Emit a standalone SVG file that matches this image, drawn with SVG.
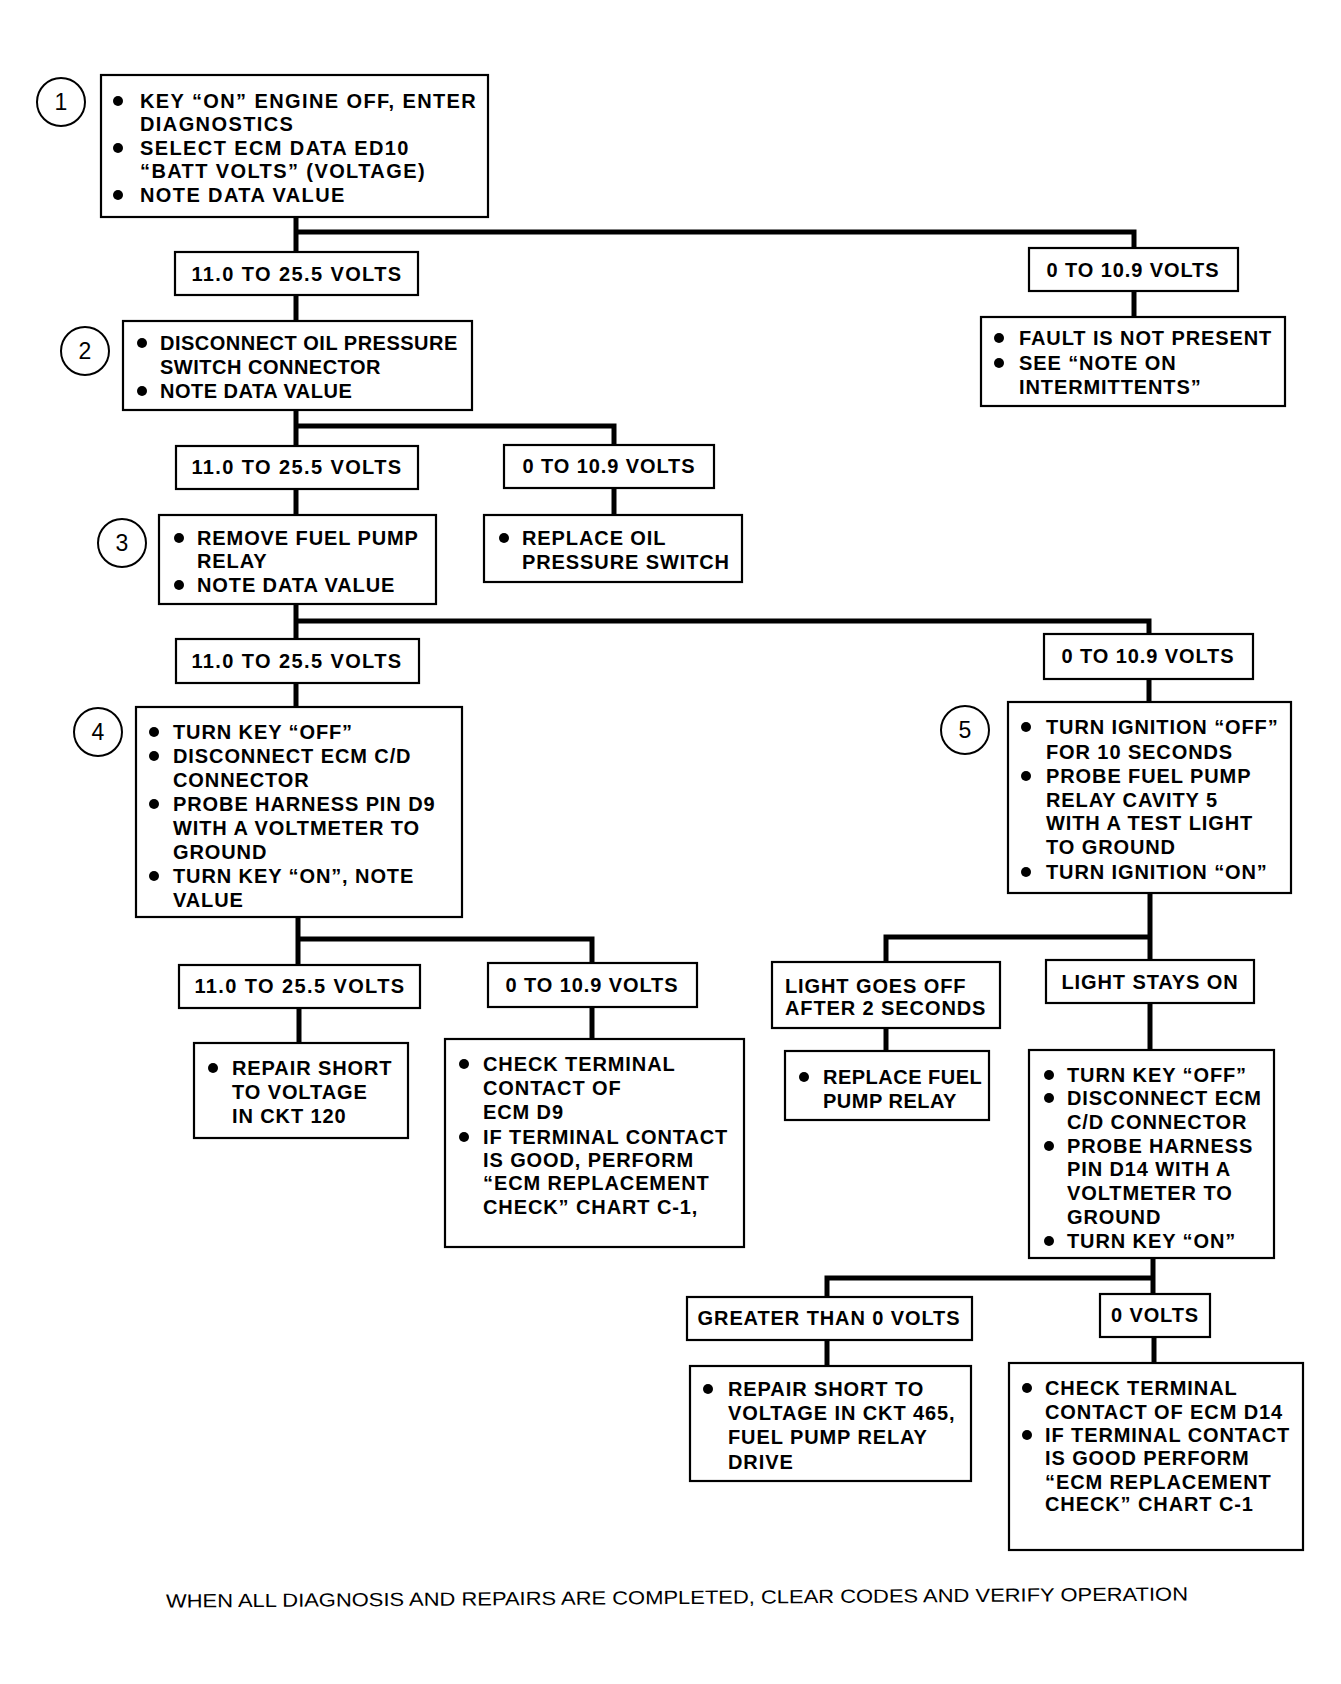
<svg xmlns="http://www.w3.org/2000/svg" width="1341" height="1684" viewBox="0 0 1341 1684">
<style>
.box{fill:#fff;stroke:#000;stroke-width:2.2}
.t{font-family:"Liberation Sans",Arial,sans-serif;font-size:20px;font-weight:bold;letter-spacing:0.9px;fill:#000}
.m{text-anchor:middle}
.w{letter-spacing:1.4px}
.n{letter-spacing:0.5px}
.b{fill:#000}
.c{stroke:#000;stroke-width:5;fill:none;stroke-linejoin:miter;stroke-linecap:butt}
.ring{fill:#fff;stroke:#000;stroke-width:2}
.num{font-family:"Liberation Sans",Arial,sans-serif;font-size:23px;text-anchor:middle;fill:#000}
.foot{font-family:"Liberation Sans",Arial,sans-serif;font-size:19px;fill:#000}
</style>
<rect width="1341" height="1684" fill="#fff"/>
<g id="connectors">
<path class="c" d="M296 217 V252 M296 232 H1134 V248"/>
<path class="c" d="M296 295 V321"/>
<path class="c" d="M1134 291 V317"/>
<path class="c" d="M296 410 V446 M296 426 H614 V445"/>
<path class="c" d="M296 489 V515"/>
<path class="c" d="M614 488 V515"/>
<path class="c" d="M296 604 V639 M296 621 H1149 V634"/>
<path class="c" d="M296 683 V707"/>
<path class="c" d="M1149 679 V702"/>
<path class="c" d="M298 917 V965 M298 939 H592 V963"/>
<path class="c" d="M299 1008 V1043"/>
<path class="c" d="M592 1007 V1039"/>
<path class="c" d="M1150 893 V960 M1150 937 H886 V962"/>
<path class="c" d="M886 1028 V1051"/>
<path class="c" d="M1150 1003 V1050"/>
<path class="c" d="M1153 1258 V1294 M1153 1278 H827 V1297"/>
<path class="c" d="M827 1340 V1366"/>
<path class="c" d="M1154 1337 V1363"/>
</g>
<g id="step1">
<circle class="ring" cx="61" cy="102" r="24"/><text class="num" x="61" y="110">1</text>
<rect class="box" x="101" y="75" width="387" height="142"/>
<circle class="b" cx="118" cy="101" r="5"/><circle class="b" cx="118" cy="148" r="5"/><circle class="b" cx="118" cy="195" r="5"/>
<text class="t w" x="140" y="108">KEY “ON” ENGINE OFF, ENTER</text>
<text class="t w" x="140" y="131">DIAGNOSTICS</text>
<text class="t w" x="140" y="155">SELECT ECM DATA ED10</text>
<text class="t w" x="140" y="178">“BATT VOLTS” (VOLTAGE)</text>
<text class="t w" x="140" y="202">NOTE DATA VALUE</text>
</g>
<g id="l1a"><rect class="box" x="175" y="252" width="243" height="43"/><text class="t m w" x="297" y="281">11.0 TO 25.5 VOLTS</text></g>
<g id="l1b"><rect class="box" x="1029" y="248" width="209" height="43"/><text class="t m" x="1133" y="277">0 TO 10.9 VOLTS</text></g>
<g id="fault">
<rect class="box" x="981" y="317" width="304" height="89"/>
<circle class="b" cx="999" cy="338" r="5"/><circle class="b" cx="999" cy="363" r="5"/>
<text class="t" x="1019" y="345">FAULT IS NOT PRESENT</text>
<text class="t" x="1019" y="370">SEE “NOTE ON</text>
<text class="t" x="1019" y="394">INTERMITTENTS”</text>
</g>
<g id="step2">
<circle class="ring" cx="85" cy="351" r="24"/><text class="num" x="85" y="359">2</text>
<rect class="box" x="123" y="321" width="349" height="89"/>
<circle class="b" cx="142" cy="343" r="5"/><circle class="b" cx="142" cy="391" r="5"/>
<text class="t n" x="160" y="350">DISCONNECT OIL PRESSURE</text>
<text class="t n" x="160" y="374">SWITCH CONNECTOR</text>
<text class="t n" x="160" y="398">NOTE DATA VALUE</text>
</g>
<g id="l2a"><rect class="box" x="176" y="446" width="242" height="43"/><text class="t m w" x="297" y="474">11.0 TO 25.5 VOLTS</text></g>
<g id="l2b"><rect class="box" x="504" y="445" width="210" height="43"/><text class="t m" x="609" y="473">0 TO 10.9 VOLTS</text></g>
<g id="replaceoil">
<rect class="box" x="484" y="515" width="258" height="67"/>
<circle class="b" cx="504" cy="538" r="5"/>
<text class="t" x="522" y="545">REPLACE OIL</text>
<text class="t" x="522" y="569">PRESSURE SWITCH</text>
</g>
<g id="step3">
<circle class="ring" cx="122" cy="543" r="24"/><text class="num" x="122" y="551">3</text>
<rect class="box" x="159" y="515" width="277" height="89"/>
<circle class="b" cx="179" cy="538" r="5"/><circle class="b" cx="179" cy="585" r="5"/>
<text class="t" x="197" y="545">REMOVE FUEL PUMP</text>
<text class="t" x="197" y="568">RELAY</text>
<text class="t" x="197" y="592">NOTE DATA VALUE</text>
</g>
<g id="l3a"><rect class="box" x="176" y="639" width="243" height="44"/><text class="t m w" x="297" y="668">11.0 TO 25.5 VOLTS</text></g>
<g id="l3b"><rect class="box" x="1044" y="634" width="209" height="45"/><text class="t m" x="1148" y="663">0 TO 10.9 VOLTS</text></g>
<g id="step4">
<circle class="ring" cx="98" cy="732" r="24"/><text class="num" x="98" y="740">4</text>
<rect class="box" x="136" y="707" width="326" height="210"/>
<circle class="b" cx="154" cy="732" r="5"/><circle class="b" cx="154" cy="756" r="5"/><circle class="b" cx="154" cy="804" r="5"/><circle class="b" cx="154" cy="876" r="5"/>
<text class="t" x="173" y="739">TURN KEY “OFF”</text>
<text class="t" x="173" y="763">DISCONNECT ECM C/D</text>
<text class="t" x="173" y="787">CONNECTOR</text>
<text class="t" x="173" y="811">PROBE HARNESS PIN D9</text>
<text class="t" x="173" y="835">WITH A VOLTMETER TO</text>
<text class="t" x="173" y="859">GROUND</text>
<text class="t" x="173" y="883">TURN KEY “ON”, NOTE</text>
<text class="t" x="173" y="907">VALUE</text>
</g>
<g id="step5">
<circle class="ring" cx="965" cy="730" r="24"/><text class="num" x="965" y="738">5</text>
<rect class="box" x="1008" y="702" width="283" height="191"/>
<circle class="b" cx="1026" cy="727" r="5"/><circle class="b" cx="1026" cy="776" r="5"/><circle class="b" cx="1026" cy="872" r="5"/>
<text class="t" x="1046" y="734">TURN IGNITION “OFF”</text>
<text class="t" x="1046" y="759">FOR 10 SECONDS</text>
<text class="t" x="1046" y="783">PROBE FUEL PUMP</text>
<text class="t" x="1046" y="807">RELAY CAVITY 5</text>
<text class="t" x="1046" y="830">WITH A TEST LIGHT</text>
<text class="t" x="1046" y="854">TO GROUND</text>
<text class="t" x="1046" y="879">TURN IGNITION “ON”</text>
</g>
<g id="l4a"><rect class="box" x="179" y="965" width="241" height="43"/><text class="t m w" x="300" y="993">11.0 TO 25.5 VOLTS</text></g>
<g id="l4b"><rect class="box" x="488" y="963" width="209" height="44"/><text class="t m" x="592" y="992">0 TO 10.9 VOLTS</text></g>
<g id="ckt120">
<rect class="box" x="194" y="1043" width="214" height="95"/>
<circle class="b" cx="213" cy="1068" r="5"/>
<text class="t" x="232" y="1075">REPAIR SHORT</text>
<text class="t" x="232" y="1099">TO VOLTAGE</text>
<text class="t" x="232" y="1123">IN CKT 120</text>
</g>
<g id="checkd9">
<rect class="box" x="445" y="1039" width="299" height="208"/>
<circle class="b" cx="464" cy="1064" r="5"/><circle class="b" cx="464" cy="1137" r="5"/>
<text class="t" x="483" y="1071">CHECK TERMINAL</text>
<text class="t" x="483" y="1095">CONTACT OF</text>
<text class="t" x="483" y="1119">ECM D9</text>
<text class="t" x="483" y="1144">IF TERMINAL CONTACT</text>
<text class="t" x="483" y="1167">IS GOOD, PERFORM</text>
<text class="t" x="483" y="1190">“ECM REPLACEMENT</text>
<text class="t" x="483" y="1214">CHECK” CHART C-1,</text>
</g>
<g id="goesoff">
<rect class="box" x="772" y="962" width="228" height="66"/>
<text class="t" x="785" y="993">LIGHT GOES OFF</text>
<text class="t" x="785" y="1015">AFTER 2 SECONDS</text>
</g>
<g id="stayson"><rect class="box" x="1046" y="960" width="208" height="43"/><text class="t m" x="1150" y="989">LIGHT STAYS ON</text></g>
<g id="replacerelay">
<rect class="box" x="785" y="1051" width="204" height="69"/>
<circle class="b" cx="804" cy="1077" r="5"/>
<text class="t n" x="823" y="1084">REPLACE FUEL</text>
<text class="t n" x="823" y="1108">PUMP RELAY</text>
</g>
<g id="checkd14">
<rect class="box" x="1029" y="1050" width="245" height="208"/>
<circle class="b" cx="1049" cy="1075" r="5"/><circle class="b" cx="1049" cy="1098" r="5"/><circle class="b" cx="1049" cy="1146" r="5"/><circle class="b" cx="1049" cy="1241" r="5"/>
<text class="t" x="1067" y="1082">TURN KEY “OFF”</text>
<text class="t" x="1067" y="1105">DISCONNECT ECM</text>
<text class="t" x="1067" y="1129">C/D CONNECTOR</text>
<text class="t" x="1067" y="1153">PROBE HARNESS</text>
<text class="t" x="1067" y="1176">PIN D14 WITH A</text>
<text class="t" x="1067" y="1200">VOLTMETER TO</text>
<text class="t" x="1067" y="1224">GROUND</text>
<text class="t" x="1067" y="1248">TURN KEY “ON”</text>
</g>
<g id="greater"><rect class="box" x="687" y="1297" width="285" height="43"/><text class="t m" x="829" y="1325">GREATER THAN 0 VOLTS</text></g>
<g id="zero"><rect class="box" x="1100" y="1294" width="110" height="43"/><text class="t m" x="1155" y="1322">0 VOLTS</text></g>
<g id="ckt465">
<rect class="box" x="690" y="1366" width="281" height="115"/>
<circle class="b" cx="708" cy="1389" r="5"/>
<text class="t" x="728" y="1396">REPAIR SHORT TO</text>
<text class="t" x="728" y="1420">VOLTAGE IN CKT 465,</text>
<text class="t" x="728" y="1444">FUEL PUMP RELAY</text>
<text class="t" x="728" y="1469">DRIVE</text>
</g>
<g id="terminald14">
<rect class="box" x="1009" y="1363" width="294" height="187"/>
<circle class="b" cx="1027" cy="1388" r="5"/><circle class="b" cx="1027" cy="1435" r="5"/>
<text class="t" x="1045" y="1395">CHECK TERMINAL</text>
<text class="t" x="1045" y="1419">CONTACT OF ECM D14</text>
<text class="t" x="1045" y="1442">IF TERMINAL CONTACT</text>
<text class="t" x="1045" y="1465">IS GOOD PERFORM</text>
<text class="t" x="1045" y="1489">“ECM REPLACEMENT</text>
<text class="t" x="1045" y="1511">CHECK” CHART C-1</text>
</g>
<g id="footer">
<text class="foot" x="166" y="1604" textLength="1022" lengthAdjust="spacingAndGlyphs" transform="rotate(-0.4 677 1597)">WHEN ALL DIAGNOSIS AND REPAIRS ARE COMPLETED, CLEAR CODES AND VERIFY OPERATION</text>
</g>
</svg>
